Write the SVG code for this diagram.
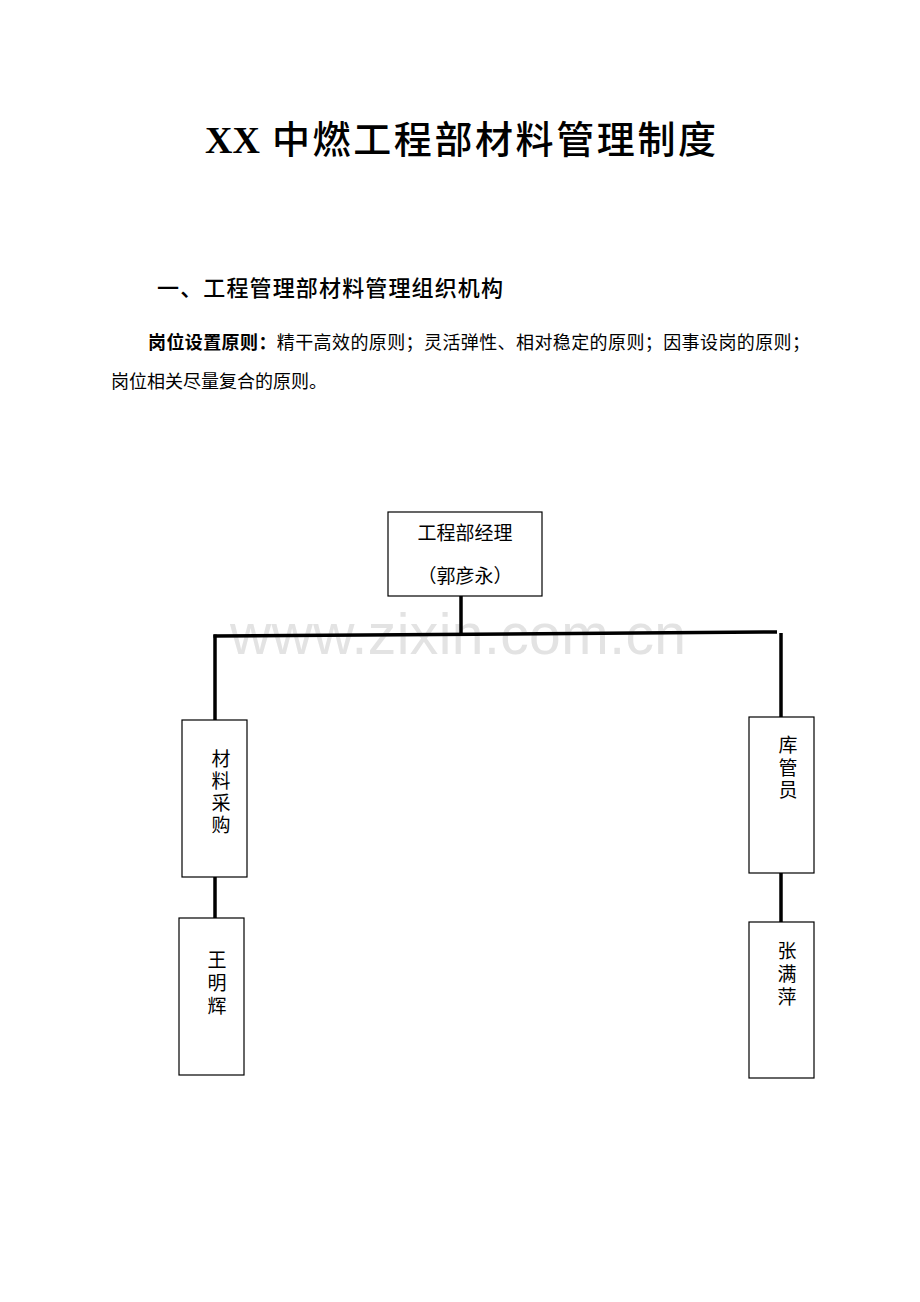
<svg xmlns="http://www.w3.org/2000/svg" width="920" height="1302" viewBox="0 0 920 1302">
<style>
.title{font-family:"Liberation Serif","Noto Sans CJK SC",serif;font-size:38px;font-weight:500;fill:#000}
.title.b{font-weight:bold}
.h1{font-family:"Noto Sans CJK SC",sans-serif;font-size:22px;font-weight:500;fill:#000}
.p{font-family:"Liberation Serif","Noto Sans CJK SC",serif;font-size:18px;fill:#000}
.lbl{font-family:"Liberation Serif","Noto Sans CJK SC",serif;font-size:19px;fill:#000;text-anchor:middle}
.box{fill:#fff;stroke:#000;stroke-width:1.2}
.conn{stroke:#000;stroke-width:3.5;fill:none}
.wm{font-family:"Liberation Sans",Arial,sans-serif;font-size:57px;fill:#e3e3e3}
</style>
<rect width="920" height="1302" fill="#fff"/>
<text class="title b" x="205" y="153">XX</text>
<text class="title" x="272" y="153" textLength="444" lengthAdjust="spacing">中燃工程部材料管理制度</text>
<text class="h1" x="157" y="296" textLength="346" lengthAdjust="spacing">一、工程管理部材料管理组织机构</text>
<text class="p" x="148" y="349" textLength="662" lengthAdjust="spacing"><tspan font-weight="bold">岗位设置原则：</tspan>精干高效的原则；灵活弹性、相对稳定的原则；因事设岗的原则；</text>
<text class="p" x="111" y="388">岗位相关尽量复合的原则。</text>
<text class="wm" x="230" y="654" textLength="456" lengthAdjust="spacing">www.zixin.com.cn</text>
<g id="connectors">
<line class="conn" x1="461" y1="596" x2="461" y2="635"/>
<line class="conn" x1="213.5" y1="636" x2="777" y2="632"/>
<line class="conn" x1="215" y1="634.5" x2="215" y2="720"/>
<line class="conn" x1="781" y1="633" x2="781" y2="717"/>
<line class="conn" x1="215" y1="877" x2="215" y2="918"/>
<line class="conn" x1="781" y1="873" x2="781" y2="922"/>
</g>
<g id="node-manager">
<rect class="box" x="388" y="512" width="154" height="84"/>
<text class="lbl" x="465" y="540">工程部经理</text>
<text class="lbl" x="465" y="583">（郭彦永）</text>
</g>
<g id="node-purchase">
<rect class="box" x="182" y="720" width="65" height="157"/>
<text class="lbl" x="221" y="766">材</text>
<text class="lbl" x="221" y="788">料</text>
<text class="lbl" x="221" y="810">采</text>
<text class="lbl" x="221" y="832">购</text>
</g>
<g id="node-wang">
<rect class="box" x="179" y="918" width="65" height="157"/>
<text class="lbl" x="217" y="967">王</text>
<text class="lbl" x="217" y="990">明</text>
<text class="lbl" x="217" y="1013">辉</text>
</g>
<g id="node-storekeeper">
<rect class="box" x="749" y="717" width="65" height="156"/>
<text class="lbl" x="788" y="752">库</text>
<text class="lbl" x="788" y="775">管</text>
<text class="lbl" x="788" y="797">员</text>
</g>
<g id="node-zhang">
<rect class="box" x="749" y="922" width="65" height="156"/>
<text class="lbl" x="787" y="958">张</text>
<text class="lbl" x="787" y="981">满</text>
<text class="lbl" x="787" y="1004">萍</text>
</g>
</svg>
